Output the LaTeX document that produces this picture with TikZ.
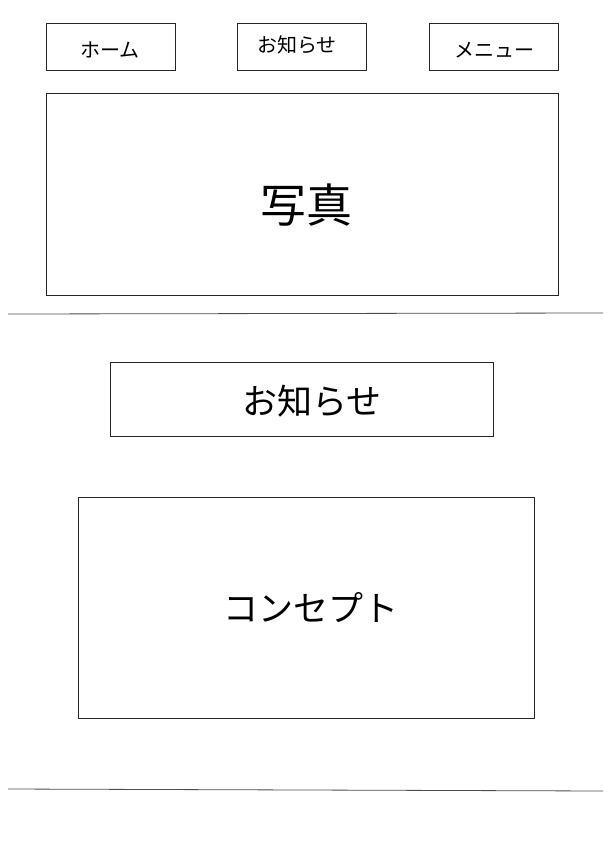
\documentclass[tikz,border=0pt]{standalone}
\usepackage{fontspec}
\newfontfamily\jpfont{Noto Sans CJK JP}
\tikzset{
  frame/.style={draw=black!85, line width=0.8pt, minimum width=#1},
  label/.style={font=\jpfont\fontsize{20}{24}\selectfont, inner sep=0pt},
  biglabel/.style={font=\jpfont\fontsize{35}{40}\selectfont, inner sep=0pt},
  rule/.style={draw=black!70, line width=0.8pt}
}
\begin{document}
\begin{tikzpicture}[x=1pt, y=-1pt]
    \useasboundingbox (0,0) rectangle (613,859);
    % header buttons
    \node (home)  at (110.5, 46.5) [frame=129pt, minimum height=47pt] {};
    \node (news)  at (301.5, 46.5) [frame=129pt, minimum height=47pt] {};
    \node (menu)  at (493.5, 46.5) [frame=129pt, minimum height=47pt] {};
    \node (homet) at (110, 50) [label] {ホーム};
    \node (newst) at (297, 45) [label] {お知らせ};
    \node (menut) at (494, 50) [label] {メニュー};
    % photo area
    \node (photo)  at (302, 194) [frame=512pt, minimum height=202pt] {};
    \node (photot) at (306, 205) [font=\jpfont\fontsize{46}{52}\selectfont, inner sep=0pt] {写真};
    % separator
    \coordinate (sepAl) at (8, 314);
    \coordinate (sepAr) at (603, 313);
    \draw[rule] (sepAl) -- (sepAr);
    % news block
    \node (newsbox) at (301.5, 399) [frame=383pt, minimum height=74pt] {};
    \node (newsboxt) at (312, 401) [biglabel] {お知らせ};
    % concept block
    \node (concept)  at (306, 607.5) [frame=456pt, minimum height=221pt] {};
    \node (conceptt) at (311, 608) [biglabel] {コンセプト};
    % footer separator
    \coordinate (sepBl) at (8, 789);
    \coordinate (sepBr) at (603, 791);
    \draw[rule] (sepBl) -- (sepBr);
  \end{tikzpicture}
\end{document}
